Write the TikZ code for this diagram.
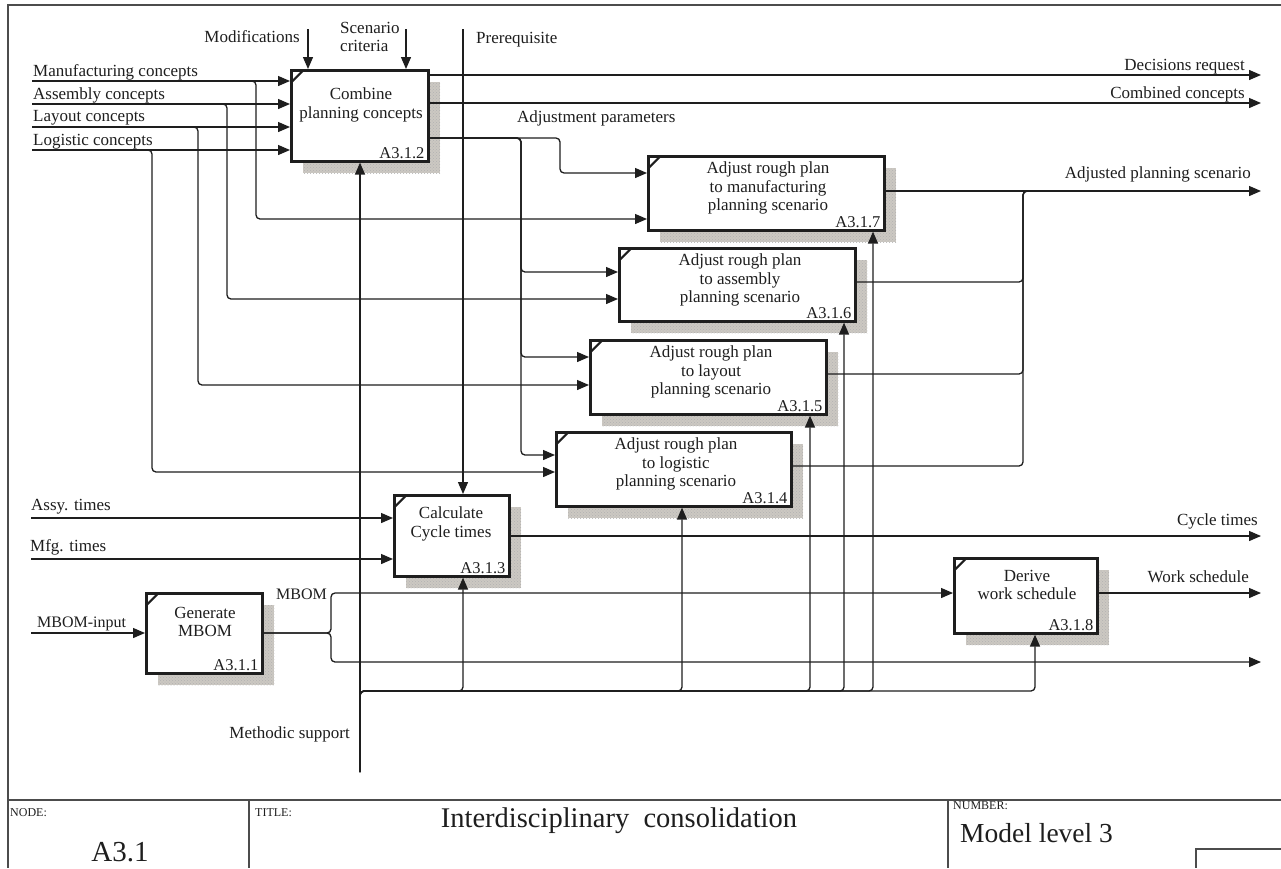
\documentclass[tikz,border=0pt]{standalone}
\usepackage{fontspec}
\setmainfont{Liberation Serif}
\usetikzlibrary{arrows.meta, shadows, calc, patterns}

\definecolor{shade}{RGB}{204,200,194}
\definecolor{ink}{RGB}{30,30,30}

\begin{document}
\begin{tikzpicture}[x=1pt, y=-1pt,
  line/.style={line width=1.3pt, draw=ink},
  flow/.style={line, -{Triangle[length=12pt,width=10pt]}},
  frame/.style={line width=1.2pt, draw=black!70},
  fn/.style={draw=ink, line width=2.6pt, fill=white, anchor=north west, inner sep=0pt,
    general shadow={fill=shade, shadow xshift=12pt, shadow yshift=-12pt,
      postaction={pattern=crosshatch dots, pattern color=black!30}},
    path picture={\draw[ink, line width=2pt]
      ([yshift=-12pt]path picture bounding box.north west) --
      ([xshift=12pt]path picture bounding box.north west);}},
  fntext/.style={align=center, inner sep=0pt, text=ink,
    font=\fontsize{17}{18.5}\selectfont},
  fnid/.style={anchor=base east, inner sep=0pt, text=ink,
    font=\fontsize{16.5}{18}\selectfont},
  lab/.style={inner sep=0pt, text=ink, font=\fontsize{17}{18.5}\selectfont},
  caps/.style={lab, font=\fontsize{16}{18}\selectfont},
  small/.style={inner sep=0pt, anchor=base west, text=ink, font=\fontsize{12}{13}\selectfont},
  big/.style={inner sep=0pt, text=ink, font=\fontsize{27.5}{30}\selectfont}
]
\useasboundingbox (0,0) rectangle (1281,868);
\fill[white] (0,0) rectangle (1281,868);

% form frame and title block
\draw[frame] (1281,5) -- (8,5) -- (8,868);
\draw[frame] (8,800) -- (1281,800);
\draw[frame] (249,800) -- (249,868);
\draw[frame] (948,800) -- (948,868);
\draw[frame] (1281,849) -- (1196,849) -- (1196,868);
\node[small] (tNode) at (10,816) {NODE:};
\node[small] (tTitle) at (255,816) {TITLE:};
\node[small] (tNum) at (953,809) {NUMBER:};
\node[big, anchor=base, font=\fontsize{29}{30}\selectfont] (vNode) at (120,861) {A3.1};
\node[big, anchor=base, font=\fontsize{28.5}{30}\selectfont] (vTitle) at (619,827) {Interdisciplinary\ \ consolidation};
\node[big, anchor=base west] (vNum) at (960,842) {Model level 3};

% activity boxes
\node[fn, minimum width=137pt, minimum height=91pt] (b2) at (290,69) {};
\node[fn, minimum width=236pt, minimum height=74pt] (b7) at (647,155) {};
\node[fn, minimum width=236pt, minimum height=73pt] (b6) at (618,247) {};
\node[fn, minimum width=236pt, minimum height=74pt] (b5) at (589,339) {};
\node[fn, minimum width=235pt, minimum height=74pt] (b4) at (555,431) {};
\node[fn, minimum width=115pt, minimum height=81pt] (b3) at (393,494) {};
\node[fn, minimum width=116pt, minimum height=80pt] (b1) at (145,592) {};
\node[fn, minimum width=143pt, minimum height=75pt] (b8) at (953,557) {};

\node[fntext] (b2t) at (361,105) {Combine\\planning concepts};
\node[fntext] (b7t) at (768,188) {Adjust rough plan\\to manufacturing\\planning scenario};
\node[fntext] (b6t) at (740,280) {Adjust rough plan\\to assembly\\planning scenario};
\node[fntext] (b5t) at (711,372) {Adjust rough plan\\to layout\\planning scenario};
\node[fntext] (b4t) at (676,464) {Adjust rough plan\\to logistic\\planning scenario};
\node[fntext] (b3t) at (451,524) {Calculate\\Cycle times};
\node[fntext] (b1t) at (205,622) {Generate\\MBOM};
\node[fntext] (b8t) at (1027,585) {Derive\\work schedule};

\node[fnid] (b2id) at ([xshift=-5pt,yshift=4pt]b2.south east) {A3.1.2};
\node[fnid] (b7id) at ([xshift=-5pt,yshift=4pt]b7.south east) {A3.1.7};
\node[fnid] (b6id) at ([xshift=-5pt,yshift=4pt]b6.south east) {A3.1.6};
\node[fnid] (b5id) at ([xshift=-5pt,yshift=4pt]b5.south east) {A3.1.5};
\node[fnid] (b4id) at ([xshift=-5pt,yshift=4pt]b4.south east) {A3.1.4};
\node[fnid] (b3id) at ([xshift=-5pt,yshift=4pt]b3.south east) {A3.1.3};
\node[fnid] (b1id) at ([xshift=-5pt,yshift=4pt]b1.south east) {A3.1.1};
\node[fnid] (b8id) at ([xshift=-5pt,yshift=4pt]b8.south east) {A3.1.8};

% concept inputs, each also feeding one adjustment box
\coordinate (iMfg) at (32,81);
\coordinate (iAsm) at (32,104);
\coordinate (iLay) at (32,127);
\coordinate (iLog) at (32,150);
\draw[flow] (iMfg) -- (iMfg -| b2.west);
\draw[flow] (iAsm) -- (iAsm -| b2.west);
\draw[flow] (iLay) -- (iLay -| b2.west);
\draw[flow] (iLog) -- (iLog -| b2.west);
\draw[flow, rounded corners=4pt] (iMfg) -| (256,219) -- (b7.west |- 0,219);
\draw[flow, rounded corners=4pt] (iAsm) -| (227,299) -- (b6.west |- 0,299);
\draw[flow, rounded corners=4pt] (iLay) -| (198,385) -- (b5.west |- 0,385);
\draw[flow, rounded corners=4pt] (iLog) -| (152,472) -- (b4.west |- 0,472);
\node[lab, anchor=base west] (lMfg) at (33,76) {Manufacturing concepts};
\node[lab, anchor=base west] (lAsm) at (33,99) {Assembly concepts};
\node[lab, anchor=base west] (lLay) at (33,121) {Layout concepts};
\node[lab, anchor=base west] (lLog) at (33,145) {Logistic concepts};

% controls from the top
\coordinate (cMod) at (308,29);
\coordinate (cScn) at (406,29);
\coordinate (cPre) at (463,29);
\draw[flow] (cMod) -- (cMod |- b2.north);
\draw[flow] (cScn) -- (cScn |- b2.north);
\draw[flow] (cPre) -- (cPre |- b3.north);
\node[lab, anchor=base east] (lMod) at (300,42) {Modifications};
\node[lab, anchor=north west, align=left] (lScn) at (340,22) {Scenario\\criteria};
\node[lab, anchor=base west] (lPre) at (476,43) {Prerequisite};

% outputs of the combination step
\coordinate (oDec) at (1261,75);
\coordinate (oComb) at (1261,103);
\coordinate (adj) at (b2.east |- 0,138);
\draw[flow] (b2.east |- oDec) -- (oDec);
\draw[flow] (b2.east |- oComb) -- (oComb);
\draw[flow, rounded corners=4pt] (adj) -| (560,173) -- (b7.west |- 0,173);
\draw[flow, rounded corners=4pt] (adj) -| (521,272) -- (b6.west |- 0,272);
\draw[flow, rounded corners=4pt] (adj) -| (521,357) -- (b5.west |- 0,357);
\draw[flow, rounded corners=4pt] (adj) -| (521,455) -- (b4.west |- 0,455);
\node[lab, anchor=base east] (lDec) at (1245,70) {Decisions request};
\node[lab, anchor=base east] (lComb) at (1245,98) {Combined concepts};
\node[lab, anchor=base west] (lAdj) at (517,122) {Adjustment parameters};

% adjusted scenarios merge into one output
\coordinate (oAdj) at (1261,191);
\draw[flow] (b7.east |- oAdj) -- (oAdj);
\draw[line, rounded corners=4pt] (b6.east |- 0,282) -| (1023,191) -- (1045,191);
\draw[line, rounded corners=4pt] (b5.east |- 0,374) -| (1023,191) -- (1045,191);
\draw[line, rounded corners=4pt] (b4.east |- 0,466) -| (1023,191) -- (1045,191);
\node[lab, anchor=base east] (lAdjOut) at (1251,178) {Adjusted planning scenario};

% cycle time calculation
\coordinate (iAssy) at (31,518);
\coordinate (iMfgT) at (31,559);
\coordinate (oCyc) at (1261,536);
\draw[flow] (iAssy) -- (iAssy -| b3.west);
\draw[flow] (iMfgT) -- (iMfgT -| b3.west);
\draw[flow] (b3.east |- oCyc) -- (oCyc);
\node[lab, anchor=base west] (lAssy) at (31,510) {Assy. times};
\node[lab, anchor=base west] (lMfgT) at (30,551) {Mfg. times};
\node[lab, anchor=base east] (lCyc) at (1258,525) {Cycle times};

% MBOM generation and work schedule
\coordinate (iMbom) at (31,633);
\coordinate (oMbom) at (1261,662);
\coordinate (oWork) at (1261,593);
\draw[flow] (iMbom) -- (iMbom -| b1.west);
\draw[flow, rounded corners=4pt] (b1.east |- iMbom) -| (331,593) -- (b8.west |- oWork);
\draw[flow, rounded corners=4pt] (b1.east |- iMbom) -| (331,662) -- (oMbom);
\draw[flow] (b8.east |- oWork) -- (oWork);
\node[caps, anchor=base west] (lMbomIn) at (37,627) {MBOM-input};
\node[caps, anchor=base west] (lMbom) at (276,599) {MBOM};
\node[lab, anchor=base east] (lWork) at (1249,582) {Work schedule};

% methodic support bus
\coordinate (mSup) at (360,772);
\draw[flow] (mSup) -- (mSup |- b2.south);
\draw[flow, rounded corners=4pt] (mSup) |- (463,691) -- (b3.south -| 463,0);
\draw[flow, rounded corners=4pt] (mSup) |- (682,691) -- (b4.south -| 682,0);
\draw[flow, rounded corners=4pt] (mSup) |- (810,691) -- (b5.south -| 810,0);
\draw[flow, rounded corners=4pt] (mSup) |- (844,691) -- (b6.south -| 844,0);
\draw[flow, rounded corners=4pt] (mSup) |- (873,691) -- (b7.south -| 873,0);
\draw[flow, rounded corners=4pt] (mSup) |- (1035,691) -- (b8.south -| 1035,0);
\node[lab, anchor=base east] (lSup) at (350,738) {Methodic support};
\end{tikzpicture}
\end{document}
